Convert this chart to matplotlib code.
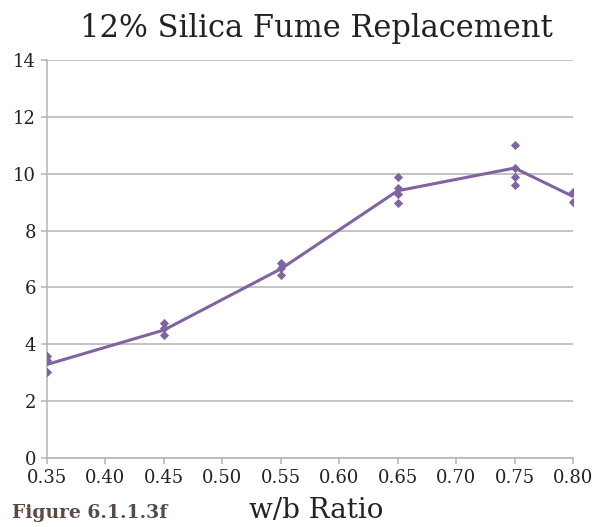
import matplotlib
matplotlib.use("Agg")
import matplotlib.pyplot as plt

# Data
x_pts = [0.35, 0.35, 0.35, 0.45, 0.45, 0.45, 0.55, 0.55, 0.55,
         0.65, 0.65, 0.65, 0.65, 0.75, 0.75, 0.75, 0.75, 0.80, 0.80]
y_pts = [3.58, 3.46, 3.03, 4.74, 4.56, 4.32, 6.85, 6.70, 6.42,
         9.87, 9.48, 9.29, 8.96, 11.01, 10.20, 9.89, 9.60, 9.37, 9.00]
x_line = [0.35, 0.45, 0.55, 0.65, 0.75, 0.80]
y_line = [3.29, 4.50, 6.65, 9.40, 10.20, 9.20]
x_ticks = [0.35, 0.40, 0.45, 0.50, 0.55, 0.60, 0.65, 0.70, 0.75, 0.80]
y_ticks = [0, 2, 4, 6, 8, 10, 12, 14]

purple = "#8064a2"
grid_c = "#b3b3b3"
serif = ["DejaVu Serif"]

fig = plt.figure(figsize=(6.08, 5.27), dpi=100)
ax = fig.add_axes([47/608, 1-458/527, (573-47)/608, (458-60)/527])

ax.plot(x_line, y_line, color=purple, lw=2.2, zorder=3)
ax.scatter(x_pts, y_pts, marker="D", s=22, color=purple, zorder=4, linewidths=0)

ax.set_xlim(0.35, 0.80)
ax.set_ylim(0, 14)
ax.set_xticks(x_ticks)
ax.set_xticklabels([f"{v:.2f}" for v in x_ticks])
ax.set_yticks(y_ticks)
ax.yaxis.grid(True, color=grid_c, lw=1.1)
ax.set_axisbelow(True)
for s in ["top", "right"]:
    ax.spines[s].set_visible(False)
for s in ["left", "bottom"]:
    ax.spines[s].set_color(grid_c)
    ax.spines[s].set_linewidth(1.1)
ax.tick_params(axis="both", colors=grid_c, length=4, width=1.1, labelcolor="#222222",
               labelsize=13)
ax.tick_params(axis="x", pad=4)
ax.tick_params(axis="y", pad=4)
for lab in ax.get_xticklabels() + ax.get_yticklabels():
    lab.set_family(serif)

fig.text(316/608, 1-28/527, "12% Silica Fume Replacement", ha="center", va="center",
         fontsize=22, family=serif, color="#222222")
fig.text(316/608, 1-510/527, "w/b Ratio", ha="center", va="center",
         fontsize=20, family=serif, color="#222222")
fig.text(12/608, 1-513/527, "Figure 6.1.1.3f", ha="left", va="center",
         fontsize=13.5, family=serif, weight="bold", color="#5a4a44")

fig.savefig("out.png", dpi=100)
